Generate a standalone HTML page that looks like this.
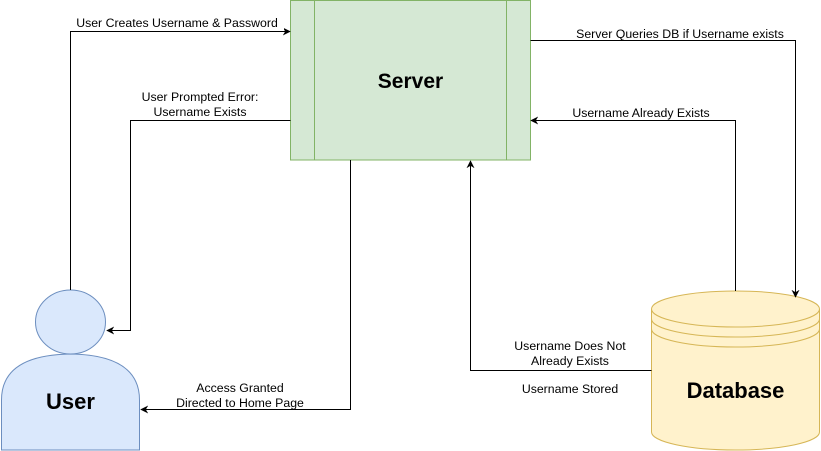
<!DOCTYPE html>
<html><head><meta charset="utf-8"><style>
body{margin:0;background:#fff;}
svg{display:block;font-family:"Liberation Sans",Arial,sans-serif;}
</style></head><body>
<svg width="821" height="451" viewBox="0 0 821 451" xmlns="http://www.w3.org/2000/svg">
<defs><marker id="a" viewBox="0 0 10 10" refX="9" refY="5" markerWidth="8" markerHeight="8" orient="auto" markerUnits="userSpaceOnUse"><path d="M0,0 L10,5 L0,10 L3,5 z" fill="#000"/></marker></defs>
<rect x="290.5" y="0.5" width="240" height="159.5" fill="#d5e8d4" stroke="#82b366"/>
<line x1="314.5" y1="0.5" x2="314.5" y2="160" stroke="#82b366"/>
<line x1="506.5" y1="0.5" x2="506.5" y2="160" stroke="#82b366"/>
<text x="410.5" y="88" font-size="21" font-weight="bold" text-anchor="middle">Server</text>
<ellipse cx="70.5" cy="322" rx="35" ry="32" fill="#dae8fc" stroke="#6c8ebf"/>
<path d="M1.5,450 L1.5,400 Q1.5,355 70.5,354 Q139.5,355 139.5,400 L139.5,450 Z" fill="#dae8fc" stroke="#6c8ebf"/>
<text x="70.5" y="409" font-size="22" font-weight="bold" text-anchor="middle">User</text>
<path d="M651.5,309 L651.5,432 A84,18 0 0 0 819.5,432 L819.5,309" fill="#fff2cc" stroke="#d6b656"/>
<ellipse cx="735.5" cy="309" rx="84" ry="18" fill="#fff2cc" stroke="#d6b656"/>
<path d="M651.5,319 A84,18 0 0 0 819.5,319 M651.5,329 A84,18 0 0 0 819.5,329" fill="none" stroke="#d6b656"/>
<text x="735.5" y="398" font-size="22" font-weight="bold" text-anchor="middle">Database</text>
<g fill="none" stroke="#000" stroke-width="1">
<path d="M70.5,290 L70.5,31.5 L290,31.5" marker-end="url(#a)"/>
<path d="M290.5,120.5 L130.5,120.5 L130.5,330.5 L107,330.5" marker-end="url(#a)"/>
<path d="M350.5,160 L350.5,409.5 L141,409.5" marker-end="url(#a)"/>
<path d="M530.5,40.5 L795.5,40.5 L795.5,297" marker-end="url(#a)"/>
<path d="M735.5,291 L735.5,120.5 L531,120.5" marker-end="url(#a)"/>
<path d="M651.5,370.5 L470.5,370.5 L470.5,161" marker-end="url(#a)"/>
</g>
<g font-size="12.3" text-anchor="middle" fill="#000">
<rect x="72" y="16" width="212" height="14" fill="#fff"/>
<text x="177" y="27">User Creates Username &amp; Password</text>
<text x="200" y="101">User Prompted Error:</text>
<text x="200" y="116">Username Exists</text>
<text x="680" y="38">Server  Queries DB if Username exists</text>
<text x="641" y="117">Username Already Exists</text>
<text x="570" y="350">Username Does Not</text>
<text x="570" y="365">Already Exists</text>
<text x="570" y="393">Username Stored</text>
<text x="240" y="392">Access Granted</text>
<text x="240" y="407">Directed to Home Page</text>
</g>
</svg>
</body></html>
